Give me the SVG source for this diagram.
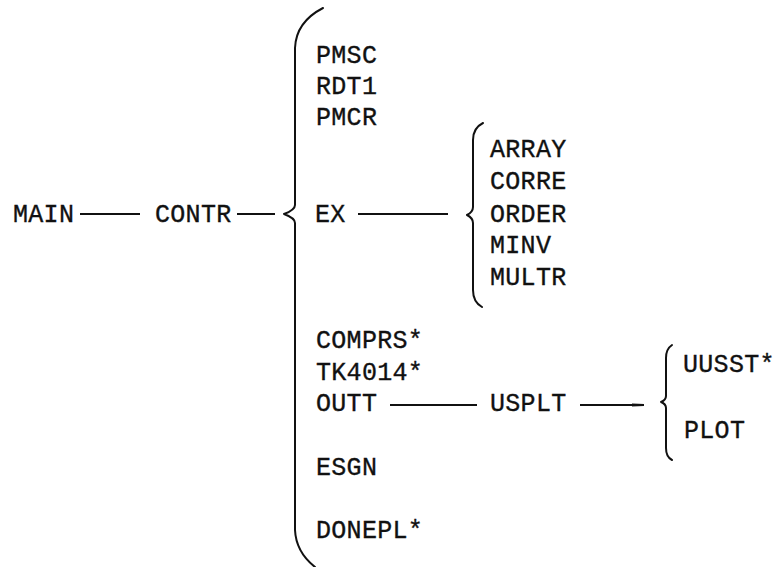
<svg xmlns="http://www.w3.org/2000/svg" width="781" height="567" viewBox="0 0 781 567">
<style>
text{font-family:"Liberation Mono","DejaVu Sans Mono",monospace;font-size:25px;fill:#111;stroke:#111;stroke-width:0.35;letter-spacing:0.3px}
.ln{stroke:#111;stroke-width:2;fill:none}
.br{stroke:#111;stroke-width:2;fill:none;stroke-linecap:round;stroke-linejoin:round}
</style>
<rect width="781" height="567" fill="#fff"/>
<g id="connectors">
<path class="ln" d="M80 214 H140"/>
<path class="ln" d="M237 214 H275"/>
<path class="ln" d="M358 214 H448"/>
<path class="ln" d="M390 405 H477"/>
<path class="ln" d="M580 405 H643"/>
<path d="M632 403.5 L644 404 L644 406 L632 406.5 Z" fill="#111"/>
<path class="br" d="M323 8 Q296 22 295 48 L295 205 Q295 210 284 214 Q295 218 295 223 L295 530 Q296 552 315 567"/>
<path class="br" d="M483 123 Q473 128 473 140 L473 207 Q473 212 467 215 Q473 218 473 223 L473 290 Q473 302 482 307"/>
<path class="br" d="M672 345 Q666 349 666 358 L666 396 Q666 400 661 402 Q666 404 666 408 L666 448 Q666 457 672 460"/>
</g>
<g id="main"><text x="13" y="222">MAIN</text></g>
<g id="contr"><text x="155" y="222">CONTR</text></g>
<g id="pmsc"><text x="316" y="63">PMSC</text></g>
<g id="rdt1"><text x="316" y="94">RDT1</text></g>
<g id="pmcr"><text x="316" y="125">PMCR</text></g>
<g id="ex"><text x="315" y="222">EX</text></g>
<g id="array"><text x="490" y="157">ARRAY</text></g>
<g id="corre"><text x="490" y="189">CORRE</text></g>
<g id="order"><text x="490" y="222">ORDER</text></g>
<g id="minv"><text x="490" y="253">MINV</text></g>
<g id="multr"><text x="490" y="285">MULTR</text></g>
<g id="comprs"><text x="316" y="348">COMPRS*</text></g>
<g id="tk4014"><text x="316" y="380">TK4014*</text></g>
<g id="outt"><text x="316" y="411">OUTT</text></g>
<g id="usplt"><text x="490" y="411">USPLT</text></g>
<g id="esgn"><text x="316" y="475">ESGN</text></g>
<g id="donepl"><text x="316" y="538">DONEPL*</text></g>
<g id="uusst"><text x="683" y="372">UUSST*</text></g>
<g id="plot"><text x="684" y="438">PLOT</text></g>
</svg>
